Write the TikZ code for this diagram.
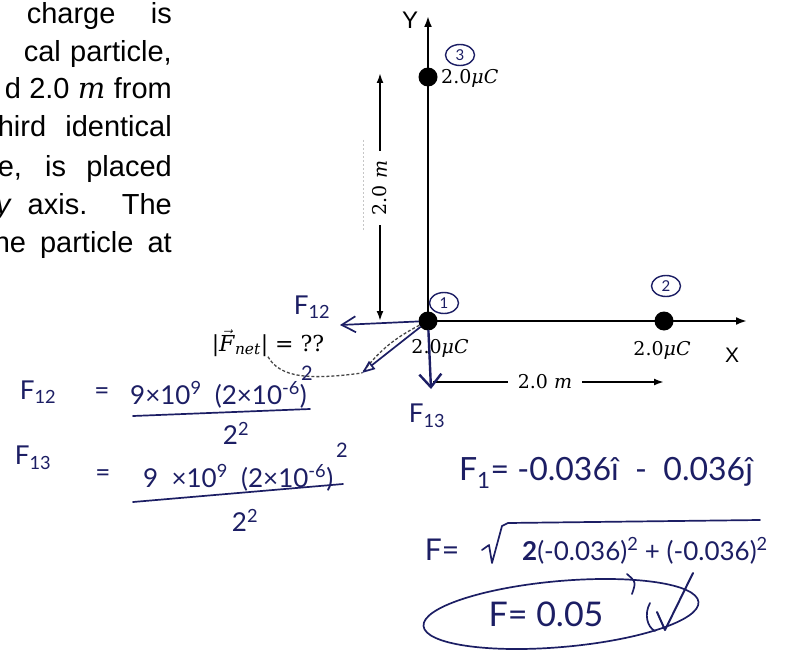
\documentclass[tikz,border=0pt]{standalone}
\usepackage{fontspec}
\newfontfamily\probfont{Liberation Sans}
\newfontfamily\labfont{DejaVu Serif}
\newfontfamily\inkfont{Lato}
\usetikzlibrary{arrows.meta, shapes.geometric}

\definecolor{inkblue}{RGB}{28, 30, 100}
\definecolor{printgray}{RGB}{70, 70, 70}

\begin{document}
\begin{tikzpicture}[
  x=1pt,
  y=-1pt,
  axis/.style={draw=black, line width=2.6pt, -{Latex[length=11pt, width=8pt]}},
  dimline/.style={draw=black, line width=2pt, -{Latex[length=10pt, width=7pt]}},
  charge/.style={circle, fill=black, inner sep=0pt, minimum size=19pt},
  qlabel/.style={font=\labfont\fontsize{19}{20}\selectfont, inner sep=0pt},
  axislabel/.style={font=\probfont\fontsize{24}{24}\selectfont, inner sep=0pt},
  probline/.style={font=\probfont\fontsize{29}{30}\selectfont, anchor=base east, inner sep=0pt},
  ink/.style={draw=inkblue, line width=1.7pt, line cap=round, line join=round},
  inktext/.style={font=\inkfont\fontsize{26}{28}\selectfont, text=inkblue, inner sep=0pt},
  bigink/.style={font=\inkfont\fontsize{30}{32}\selectfont, text=inkblue, inner sep=0pt},
  tag/.style={ellipse, draw=inkblue, line width=1.4pt, inner sep=0pt, minimum width=29pt, minimum height=21pt, font=\inkfont\fontsize{15}{15}\selectfont, text=inkblue},
  printdash/.style={draw=printgray, line width=1.3pt, dash pattern=on 3pt off 2pt}
]

  \fill[white] (0, 0) rectangle (795, 650);
  \useasboundingbox (0, 0) rectangle (795, 650);
  \clip (0, 0) rectangle (795, 650);

  % Problem text, cut off on the left
  \node[probline] (txta) at (172, 24) {\makebox[145pt][s]{charge is}};
  \node[probline] (txtb) at (172, 62) {\makebox[148pt][s]{cal particle,}};
  \node[probline] (txtc) at (172, 99) {\makebox[167pt][s]{d 2.0 {\labfont\itshape m} from}};
  \node[probline] (txtd) at (172, 137) {\makebox[174pt][s]{hird identical}};
  \node[probline] (txte) at (172, 176) {\makebox[174pt][s]{e, is placed}};
  \node[probline] (txtf) at (172, 214) {\makebox[176pt][s]{\textit{y} axis. The}};
  \node[probline] (txtg) at (172, 252) {\makebox[178pt][s]{he particle at}};

  % Charges and axes
  \node[charge] (q1) at (428, 321) {};
  \node[charge] (q2) at (664, 321) {};
  \node[charge] (q3) at (428, 77) {};
  \coordinate (xtip) at (747, 321);
  \coordinate (ytip) at (428, 16);
  \draw[axis] (q1.center) -- (xtip);
  \draw[axis] (q1.center) -- (ytip);

  \node[axislabel] (ylab) at (410, 20) {Y};
  \node[axislabel, font=\probfont\fontsize{21}{21}\selectfont] (xlab) at (732, 355) {X};

  \node[qlabel, anchor=west] (q3lab) at (441, 78) {2.0\textit{μC}};
  \node[qlabel] (q1lab) at (440, 348) {2.0\textit{μC}};
  \node[qlabel] (q2lab) at (662, 350) {2.0\textit{μC}};

  % Dimensions
  \node[qlabel, rotate=90, inner sep=10pt] (vdlab) at (380, 188) {2.0 \textit{m}};
  \coordinate (vdtop) at (380, 73);
  \coordinate (vdbot) at (380, 321);
  \draw[dimline] (vdlab.east) -- (vdtop);
  \draw[dimline] (vdlab.west) -- (vdbot);
  \draw[gray!45, line width=0.6pt, dash pattern=on 2pt off 2pt] (363, 140) -- (363, 230);

  \node[qlabel, inner sep=10pt] (hdlab) at (545, 382) {2.0 \textit{m}};
  \coordinate (hdleft) at (433, 382);
  \coordinate (hdright) at (664, 382);
  \draw[line width=2pt] (hdleft) -- (hdlab.west);
  \draw[dimline] (hdlab.east) -- (hdright);

  % Printed net force hint
  \node[font=\labfont\fontsize{22}{24}\selectfont, inner sep=0pt] (fnetlab) at (268, 343) {|$\vec{\mbox{\textit{F}}}$\textsubscript{\textit{net}}| = ??};
  \coordinate (fnettip) at (362, 373);
  \draw[printdash] (q1) to[bend right=12] (fnettip);
  \draw[printdash] (fnetlab.south) .. controls (280, 378) and (310, 380) .. (fnettip);

  % Handwritten force arrows
  \draw[ink, -{Triangle[open, length=13pt, width=10pt]}] (q1) -- (fnettip);
  \coordinate (f12tip) at (340, 325);
  \draw[ink, -{Straight Barb[length=14pt, width=16pt]}] (q1) -- (f12tip);
  \coordinate (f13tip) at (431, 389);
  \draw[ink, line width=2.4pt, -{Straight Barb[length=13pt, width=22pt]}] (q1) -- (f13tip);

  \node[inktext] (f12lab) at (312, 307) {F\textsubscript{12}};
  \node[inktext] (f13lab) at (427, 416) {F\textsubscript{13}};
  \node[tag] (tag1) at (444, 303) {1};
  \node[tag] (tag2) at (666, 286) {2};
  \node[tag] (tag3) at (460, 55) {3};

  % Working for F12 and F13
  \node[inktext] (eq12f) at (38, 392) {F\textsubscript{12}};
  \node[inktext] (eq12eq) at (102, 394) {=};
  \node[inktext, anchor=base west] (eq12num) at (130, 404) {9×10\textsuperscript{9}\ \ (2×10\textsuperscript{-6})};
  \node[inktext, font=\inkfont\fontsize{20}{20}\selectfont] (eq12sq) at (307, 373) {2};
  \draw[ink] (133, 416) -- (310, 409);
  \node[inktext] (eq12den) at (236, 433) {2\textsuperscript{2}};

  \node[inktext] (eq13f) at (33, 458) {F\textsubscript{13}};
  \node[inktext] (eq13eq) at (103, 476) {=};
  \node[inktext, anchor=base west] (eq13num) at (143, 487) {\makebox[190pt][s]{9 ×10\textsuperscript{9} (2×10\textsuperscript{-6})}};
  \node[inktext, font=\inkfont\fontsize{20}{20}\selectfont] (eq13sq) at (342, 450) {2};
  \draw[ink] (133, 502) -- (343, 484);
  \node[inktext] (eq13den) at (245, 520) {2\textsuperscript{2}};

  % Components and magnitude
  \node[bigink, font=\inkfont\fontsize{32}{34}\selectfont] (f1comp) at (606, 473) {F\textsubscript{1}= -0.036î \ - \ 0.036ĵ};
  \node[bigink] (fmaglhs) at (442, 550) {F=};
  \draw[ink] (482, 550) -- (489, 545) -- (492, 563) -- (502, 526) -- (508, 523) -- (760, 520);
  \node[inktext, anchor=base west] (fmagrad) at (522, 560) {\textbf{2}(-0.036)\textsuperscript{2} + (-0.036)\textsuperscript{2}};
  \draw[ink] (627, 574) .. controls (636, 582) .. (632, 594);

  % Circled result
  \draw[ink, rotate around={5:(561, 614)}] (561, 614) ellipse [x radius=138, y radius=33];
  \node[bigink, font=\inkfont\fontsize{34}{36}\selectfont] (fres) at (546, 614) {F= 0.05};
  \draw[ink] (650, 603) .. controls (644, 614) and (647, 627) .. (655, 631);
  \draw[ink, line width=2pt] (657, 612) -- (665, 630) -- (693, 573);

\end{tikzpicture}
\end{document}
